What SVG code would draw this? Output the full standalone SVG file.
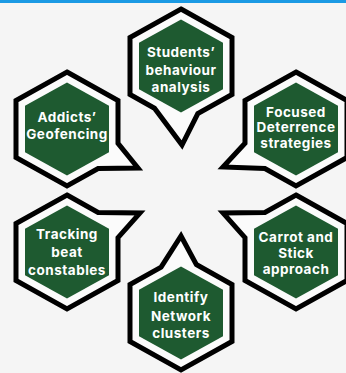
<svg xmlns="http://www.w3.org/2000/svg" width="346" height="373" viewBox="0 0 346 373">
<style>
.bubble{fill:#fbfbfb;stroke:#000;stroke-width:5;stroke-linejoin:miter}
.hex{fill:#1e5a30}
.t{font-family:Inter,"Noto Sans","Liberation Sans",sans-serif;font-weight:700;font-size:13.5px;letter-spacing:0.5px;fill:#fff;text-anchor:middle}
</style>
<defs>
<polygon id="inner" class="hex" points="0,-46.5 42,-23.25 42,23.25 0,46.5 -42,23.25 -42,-23.25"/>
</defs>
<rect width="346" height="373" fill="#f5f5f5"/>
<rect width="346" height="3" fill="#1b9ae4"/>
<g id="connectors"></g>
<g id="node-students" transform="translate(181,66)">
<path class="bubble" d="M0,-57 L51,-28.5 L51,28.5 L16.8,47.6 L1,79 L-26.5,42.2 L-51,28.5 L-51,-28.5 Z"/>
<use href="#inner"/>
</g>
<g id="node-addicts" transform="translate(67,129)">
<path class="bubble" d="M0,-57 L51,-28.5 L51,14.3 L71,39 L31.1,39.6 L0,57 L-51,28.5 L-51,-28.5 Z"/>
<use href="#inner"/>
</g>
<g id="node-focused" transform="translate(296,129)">
<path class="bubble" d="M0,-57 L51,-28.5 L51,28.5 L0,57 L-31.1,39.6 L-73,38 L-51,14.3 L-51,-28.5 Z"/>
<use href="#inner"/>
</g>
<g id="node-tracking" transform="translate(67,252)">
<path class="bubble" d="M0,-57 L31.1,-39.6 L73,-39 L51,-14.3 L51,28.5 L0,57 L-51,28.5 L-51,-28.5 Z"/>
<use href="#inner"/>
</g>
<g id="node-carrot" transform="translate(296,252)">
<path class="bubble" d="M0,-57 L51,-28.5 L51,28.5 L0,57 L-51,28.5 L-51,-14.3 L-73,-39 L-31.1,-39.6 Z"/>
<use href="#inner"/>
</g>
<g id="node-identify" transform="translate(181,313)">
<path class="bubble" d="M15.3,-48.5 L51,-28.5 L51,28.5 L0,57 L-51,28.5 L-51,-28.5 L-19.9,-45.9 L0,-77 Z"/>
<use href="#inner"/>
</g>
<g id="labels">
<text class="t" x="181" y="57">Students’</text>
<text class="t" x="181" y="75">behaviour</text>
<text class="t" x="181" y="92">analysis</text>
<text class="t" x="67" y="122">Addicts’</text>
<text class="t" x="67" y="139">Geofencing</text>
<text class="t" x="296" y="116.5">Focused</text>
<text class="t" x="296" y="132">Deterrence</text>
<text class="t" x="296" y="148">strategies</text>
<text class="t" x="67" y="239">Tracking</text>
<text class="t" x="67" y="256.5">beat</text>
<text class="t" x="67" y="275">constables</text>
<text class="t" x="296" y="241.5">Carrot and</text>
<text class="t" x="296" y="257.5">Stick</text>
<text class="t" x="296" y="274">approach</text>
<text class="t" x="181" y="302">Identify</text>
<text class="t" x="181" y="320.5">Network</text>
<text class="t" x="181" y="338">clusters</text>
</g>
</svg>
